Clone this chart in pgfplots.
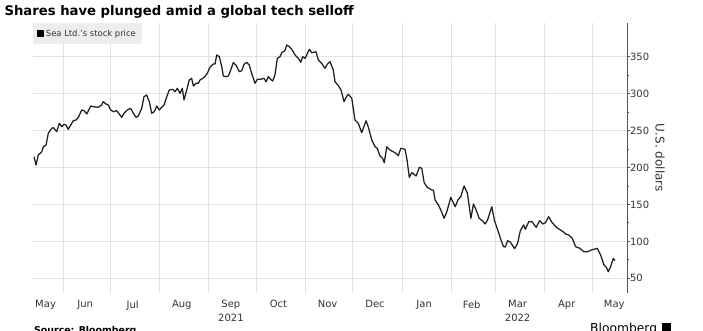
\documentclass[border=0pt]{standalone}
\usepackage{fontspec}
\setmainfont{DejaVu Sans}
\usepackage{pgfplots}
\pgfplotsset{compat=1.18}
\definecolor{linec}{HTML}{1E1E1E}
\definecolor{gridc}{HTML}{E2E2E2}
\definecolor{txtc}{HTML}{333333}
\definecolor{axc}{HTML}{555555}
\definecolor{legc}{HTML}{EDEDED}
\begin{document}
\begin{tikzpicture}
\useasboundingbox (0pt,0pt) rectangle (703pt,330pt);
\begin{axis}[
  at={(33pt,37pt)}, anchor=south west,
  width=594pt, height=270pt, scale only axis,
  xmin=12.06, xmax=387.05,
  ymin=30.1, ymax=395.6,
  axis y line*=right,
  axis x line*=bottom,
  x axis line style={draw=none},
  y axis line style={draw=axc, line width=0.9pt},
  xtick={20,45,75,106,137,167,198,228,259,289,318,349,379},
  xticklabels={May,Jun,Jul,Aug,{Sep\\2021},Oct,Nov,Dec,Jan,Feb,{Mar\\2022},Apr,May},
  minor xtick={31,61,92,123,153,184,214,245,276,304,335,365},
  xminorgrids, minor x grid style={draw=gridc, line width=0.8pt},
  x tick style={draw=none},
  xticklabel style={align=center, font=\fontsize{10}{13.3}\selectfont, text=txtc, yshift=-1pt},
  ytick={50,100,150,200,250,300,350},
  minor y tick num=1,
  ymajorgrids, major y grid style={draw=gridc, line width=0.9pt},
  y tick style={draw=axc, line width=0.8pt},
  tick align=outside,
  major tick length=3pt, minor tick length=2pt,
  yticklabel style={font=\fontsize{10}{12}\selectfont, text=txtc, xshift=-3.5pt},
  /pgf/number format/assume math mode=true,
  clip=false,
  legend style={at={(0,1)}, anchor=north west, fill=legc, draw=none,
    font=\fontsize{8.4}{10}\selectfont, text=txtc,
    inner xsep=4pt, inner ysep=4.5pt},
  legend cell align=left,
  legend image code/.code={\fill[black] (0pt,-2.7pt) rectangle (5.5pt,2.7pt);},
]
\addplot[linec, line width=1.25pt, line join=round] coordinates {
(12.7,214.6)(14.0,203.4)(15.4,216.9)(17.6,221.4)(18.6,228.1)(20.3,230.4)
(21.7,246.3)(23.9,253.1)(24.9,253.9)(27.0,248.5)(28.7,259.8)(30.2,255.2)
(31.6,258.5)(32.9,257.5)(34.3,251.7)(35.9,257.5)(37.5,263.3)(39.2,264.3)
(40.7,267.9)(42.8,277.8)(44.3,276.9)(46.0,272.4)(48.5,283.2)(50.1,282.3)
(53.3,281.5)(55.4,284.6)(56.4,289.1)(58.1,286.0)(59.6,284.6)(61.1,277.8)
(62.8,275.5)(64.9,276.9)(66.5,272.4)(68.1,267.9)(69.5,273.4)(71.6,277.8)
(73.7,280.1)(75.4,273.4)(77.1,267.9)(78.5,269.7)(80.7,280.1)(82.1,295.8)
(83.8,298.1)(85.5,289.1)(87.0,273.4)(88.6,275.5)(90.2,283.2)(91.8,277.8)
(93.3,281.5)(94.8,284.6)(96.5,295.8)(98.1,304.9)(100.3,305.8)(101.7,302.6)
(103.2,307.2)(104.9,300.4)(106.3,307.2)(107.4,291.4)(109.1,304.9)(110.7,318.4)
(112.2,320.7)(113.3,310.3)(115.0,314.0)(116.4,314.0)(117.5,318.4)(119.2,320.7)
(120.6,322.9)(122.1,327.5)(123.8,335.6)(125.9,340.1)(127.0,340.1)(128.0,352.3)
(129.7,350.0)(131.2,336.5)(132.2,323.9)(133.9,322.9)(135.4,323.9)(136.9,332.0)
(138.5,341.9)(140.2,338.7)(142.3,329.7)(143.8,331.0)(145.3,339.7)(147.0,342.4)
(148.6,338.7)(150.1,327.5)(152.2,314.0)(153.7,319.4)(155.8,319.4)(157.9,320.7)
(159.2,316.1)(160.6,322.9)(162.1,319.4)(163.4,317.1)(164.8,325.2)(166.3,347.8)
(168.0,350.0)(169.1,355.4)(171.1,358.1)(172.2,365.8)(173.9,363.5)(175.4,360.0)
(177.5,352.3)(179.5,347.8)(181.1,342.4)(182.3,350.0)(183.8,347.8)(186.5,360.0)
(188.0,355.4)(190.7,356.7)(192.2,345.5)(194.3,341.0)(196.4,334.3)(197.9,340.1)
(199.6,343.2)(201.6,332.0)(202.7,316.1)(204.8,311.0)(206.5,304.9)(208.4,289.1)
(209.8,295.4)(211.1,299.1)(213.3,293.7)(215.3,264.3)(217.4,259.8)(219.6,247.1)
(222.3,263.3)(223.7,255.2)(225.9,237.2)(228.0,228.1)(229.4,226.0)(231.1,215.6)
(232.8,212.4)(233.8,206.5)(235.4,228.1)(237.4,223.7)(240.6,220.0)(242.7,216.0)
(244.2,226.0)(246.9,224.6)(248.2,210.1)(249.6,186.7)(251.2,193.0)(253.9,188.5)
(256.0,200.3)(257.5,198.9)(259.0,179.4)(261.0,173.2)(263.8,169.5)(264.8,169.5)
(265.9,156.0)(268.0,149.2)(269.7,141.5)(271.6,131.2)(273.3,140.2)(275.8,159.6)
(277.5,151.9)(278.6,146.9)(280.3,156.0)(282.1,160.5)(284.2,175.0)(286.3,165.1)
(288.5,131.2)(290.1,150.6)(291.8,142.5)(293.7,131.2)(295.8,128.0)(297.5,123.5)
(299.0,128.9)(301.7,146.9)(303.4,128.0)(305.3,116.3)(307.5,101.8)(309.1,92.8)
(310.2,92.4)(311.7,100.9)(313.4,99.1)(316.1,90.1)(318.0,97.4)(319.7,114.4)
(321.8,122.2)(322.9,116.3)(325.0,126.6)(327.1,126.6)(329.7,119.0)(331.9,128.0)
(333.9,123.5)(335.6,125.3)(337.6,133.4)(339.8,125.3)(342.5,119.0)(345.0,115.4)
(346.7,113.1)(348.2,110.0)(350.3,108.6)(352.5,104.1)(354.6,92.8)(357.3,90.6)
(359.8,86.0)(362.3,86.0)(364.5,88.3)(368.3,90.6)(370.4,81.5)(372.5,68.0)
(374.0,64.9)(375.2,58.9)(376.7,65.7)(378.4,77.1)(379.4,73.8)
};
\addlegendentry{Sea Ltd.'s stock price}
\end{axis}
\node[anchor=base west, font=\bfseries\fontsize{13.2}{15}\selectfont, text=black] at (1pt,314pt) {Shares have plunged amid a global tech selloff};
\node[rotate=-90, font=\fontsize{12}{14}\selectfont, text=txtc] at (660pt,172pt) {U.S. dollars};
\node[anchor=base west, font=\bfseries\fontsize{9.4}{11}\selectfont, text=black, inner sep=0pt] at (34pt,-3.6pt) {Source: Bloomberg};
\node[anchor=base west, font=\fontsize{12.3}{14}\selectfont, text=black, inner sep=0pt] at (590pt,-2.3pt) {Bloomberg};
\fill[black] (662pt,-2.3pt) rectangle (671pt,6.7pt);
\end{tikzpicture}
\end{document}
